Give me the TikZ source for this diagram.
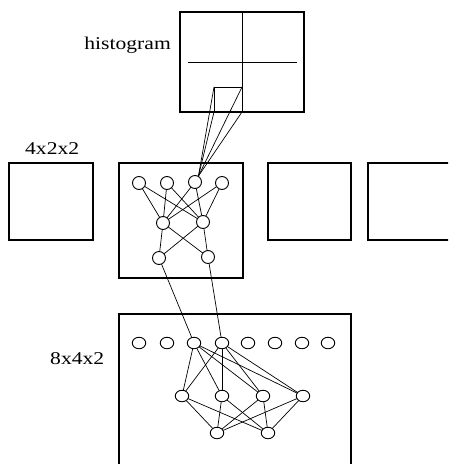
\documentclass[tikz,border=0pt]{standalone}
\usepackage{fontspec}
\setmainfont{Liberation Serif}
\usetikzlibrary{shapes.geometric}
\begin{document}
\begin{tikzpicture}[x=1pt,y=-1pt,
  frame/.style={line width=2.3pt},
  thin/.style={line width=0.8pt},
  conn/.style={line width=0.7pt, shorten <=-0.2pt, shorten >=-0.2pt},
  unit/.style={circle, draw, line width=0.9pt, minimum size=13pt, inner sep=0pt},
  eunit/.style={ellipse, draw, line width=0.9pt, minimum width=13.5pt, minimum height=11.5pt, inner sep=0pt},
  lab/.style={font=\fontsize{18}{20}\selectfont, inner sep=0pt}]
\clip (0,0) rectangle (448,464);
\fill[white] (0,0) rectangle (448,464);

% labels
\node[lab, anchor=base east] (lh) at (171,49) {\scalebox{1.2}[1]{histogram}};
\node[lab, anchor=base west] (l1) at (25,154) {\scalebox{1.2}[1]{4x2x2}};
\node[lab, anchor=base west] (l2) at (50,364) {\scalebox{1.2}[1]{8x4x2}};

% histogram box
\draw[frame] (180,12) rectangle (304,112);
\draw[thin] (242,12) -- (242,112);
\draw[thin] (188,62) -- (297,62);
\coordinate (c1) at (214,87);
\coordinate (c2) at (242,87);
\coordinate (c3) at (214,112);
\coordinate (c4) at (242,112);
\draw[thin] (c3) -- (c1) -- (c2);

% row of boxes
\draw[frame] (9,163) rectangle (93,240);
\draw[frame] (119,163) rectangle (243,278);
\draw[frame] (268,163) rectangle (351,240);
\draw[frame] (460,163) -- (368,163) -- (368,240) -- (460,240);

% lower box
\draw[frame] (119,480) -- (119,314) -- (351,314) -- (351,480);

% middle box network
\node[unit] (a1) at (139,183) {};
\node[unit] (a2) at (167,183) {};
\node[unit] (a3) at (195,182) {};
\node[unit] (a4) at (222,183) {};
\node[unit] (b1) at (163,223) {};
\node[unit] (b2) at (203,222) {};
\node[unit] (d1) at (159,258) {};
\node[unit] (d2) at (208,257) {};
\foreach \a in {a1,a2,a3,a4} \foreach \b in {b1,b2} \draw[conn] (\a) -- (\b);
\foreach \a in {b1,b2} \foreach \b in {d1,d2} \draw[conn] (\a) -- (\b);

% receptive field lines
\foreach \c in {c1,c2,c3,c4} \draw[conn] (\c) -- (a3.60);

% lower box network
\foreach \i/\x in {1/139,2/167,3/194,4/222,5/248,6/275,7/302,8/328}
  \node[eunit] (e\i) at (\x,343) {};
\node[eunit] (f1) at (182,396) {};
\node[eunit] (f2) at (222,396) {};
\node[eunit] (f3) at (263,396) {};
\node[eunit] (f4) at (303,396) {};
\node[eunit] (g1) at (217,433) {};
\node[eunit] (g2) at (268,433) {};
\foreach \a in {e3,e4} \foreach \b in {f1,f2,f3,f4} \draw[conn] (\a) -- (\b);
\foreach \a in {f1,f2,f3,f4} \foreach \b in {g1,g2} \draw[conn] (\a) -- (\b);

% links between levels
\draw[conn] (d1) -- (e3);
\draw[conn] (d2) -- (e4);
\end{tikzpicture}
\end{document}
